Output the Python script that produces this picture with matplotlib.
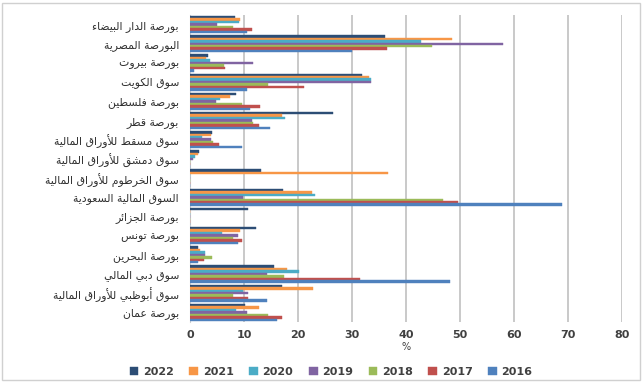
import matplotlib
matplotlib.use("Agg")
import matplotlib.pyplot as plt
from matplotlib.patches import Rectangle
import numpy as np

# ---------------- data ----------------
categories = [
    "بورصة الدار البيضاء",
    "البورصة المصرية",
    "بورصة بيروت",
    "سوق الكويت",
    "بورصة فلسطين",
    "بورصة قطر",
    "سوق مسقط للأوراق المالية",
    "سوق دمشق للأوراق المالية",
    "سوق الخرطوم للأوراق المالية",
    "السوق المالية السعودية",
    "بورصة الجزائر",
    "بورصة تونس",
    "بورصة البحرين",
    "سوق دبي المالي",
    "سوق أبوظبي للأوراق المالية",
    "بورصة عمان",
]
years = ["2022", "2021", "2020", "2019", "2018", "2017", "2016"]
v2022 = [8.3, 36.1, 3.4, 31.9, 8.5, 26.5, 4.0, 1.7, 13.1, 17.3, 10.8, 12.3, 1.5, 15.6, 17.0, 10.2]
v2021 = [9.3, 48.5, 3.0, 33.2, 7.4, 17.0, 3.9, 1.4, 36.7, 22.5, 0.0, 9.3, 1.8, 17.9, 22.8, 12.8]
v2020 = [9.0, 42.8, 3.7, 33.5, 5.5, 17.6, 2.2, 1.0, 0.0, 23.1, 0.0, 5.9, 2.8, 20.1, 9.9, 8.5]
v2019 = [5.0, 58.0, 11.7, 33.5, 4.8, 11.5, 3.9, 0.5, 0.0, 9.9, 0.0, 8.9, 2.8, 14.2, 10.8, 10.6]
v2018 = [8.0, 44.8, 6.3, 14.5, 9.6, 11.7, 4.3, 0.0, 0.0, 46.9, 0.0, 8.0, 4.0, 17.4, 8.0, 14.5]
v2017 = [11.5, 36.5, 6.5, 21.1, 13.0, 12.8, 5.3, 0.0, 0.0, 49.6, 0.0, 9.6, 2.5, 31.4, 10.8, 17.1]
v2016 = [10.5, 30.0, 0.7, 10.5, 11.1, 14.8, 9.6, 0.0, 0.0, 68.9, 0.0, 8.9, 1.5, 48.1, 14.2, 16.2]
series = [v2022, v2021, v2020, v2019, v2018, v2017, v2016]
colors = ["#2C4D75", "#F79646", "#4BACC6", "#8064A2", "#9BBB59", "#C0504D", "#4F81BD"]
xticks = [0, 10, 20, 30, 40, 50, 60, 70, 80]
xlabel = "%"

# ------------- minimal Arabic shaping (presentation forms + visual order) -------------
_starts = {'ء': 0xFE80, 'آ': 0xFE81, 'أ': 0xFE83, 'ؤ': 0xFE85, 'إ': 0xFE87, 'ئ': 0xFE89,
           'ا': 0xFE8D, 'ب': 0xFE8F, 'ة': 0xFE93, 'ت': 0xFE95, 'ث': 0xFE99, 'ج': 0xFE9D,
           'ح': 0xFEA1, 'خ': 0xFEA5, 'د': 0xFEA9, 'ذ': 0xFEAB, 'ر': 0xFEAD, 'ز': 0xFEAF,
           'س': 0xFEB1, 'ش': 0xFEB5, 'ص': 0xFEB9, 'ض': 0xFEBD, 'ط': 0xFEC1, 'ظ': 0xFEC5,
           'ع': 0xFEC9, 'غ': 0xFECD, 'ف': 0xFED1, 'ق': 0xFED5, 'ك': 0xFED9, 'ل': 0xFEDD,
           'م': 0xFEE1, 'ن': 0xFEE5, 'ه': 0xFEE9, 'و': 0xFEED, 'ى': 0xFEEF, 'ي': 0xFEF1}
_right = set("آأؤإاةدذرزوى")
_none = set("ء")
_lamalef = {'آ': 0xFEF5, 'أ': 0xFEF7, 'إ': 0xFEF9, 'ا': 0xFEFB}


def shape_ar(text):
    toks = []
    i = 0
    while i < len(text):
        c = text[i]
        if c == 'ل' and i + 1 < len(text) and text[i + 1] in _lamalef:
            toks.append(('lamalef', text[i + 1]))
            i += 2
            continue
        if c in _starts:
            if c in _none:
                toks.append(('none', c))
            elif c in _right:
                toks.append(('right', c))
            else:
                toks.append(('dual', c))
        else:
            toks.append(('other', c))
        i += 1
    out = []
    for k, (kind, c) in enumerate(toks):
        prev_joins = k > 0 and toks[k - 1][0] == 'dual'
        next_joins = (k + 1 < len(toks) and toks[k + 1][0] in ('dual', 'right', 'lamalef'))
        if kind == 'other':
            out.append(c)
        elif kind == 'none':
            out.append(chr(_starts[c]))
        elif kind == 'lamalef':
            out.append(chr(_lamalef[c] + (1 if prev_joins else 0)))
        elif kind == 'right':
            out.append(chr(_starts[c] + (1 if prev_joins else 0)))
        else:
            s = _starts[c]
            if prev_joins and next_joins:
                out.append(chr(s + 3))
            elif prev_joins:
                out.append(chr(s + 1))
            elif next_joins:
                out.append(chr(s + 2))
            else:
                out.append(chr(s))
    return "".join(out)[::-1]


# ---------------- plot ----------------
W, H = 643, 382
fig = plt.figure(figsize=(W / 100, H / 100), dpi=100)
fig.patch.set_facecolor("white")
fig.add_artist(Rectangle((2 / W, 2 / H), 1 - 5 / W, 1 - 5 / H, transform=fig.transFigure,
                         fill=False, edgecolor="#d0d0d0", linewidth=1.0))

ax = fig.add_axes([190 / W, 1 - 322 / H, 432 / W, 307 / H])
n = len(categories)
ns = len(series)
group_h = 0.9
bh = group_h / ns
ypos = np.arange(n)
for j, (vals, col) in enumerate(zip(series, colors)):
    offs = -group_h / 2 + bh * (j + 0.5)
    ax.barh(ypos + offs, vals, height=bh, color=col, label=years[j], zorder=3,
            edgecolor=col, linewidth=0.3)

ax.set_xlim(0, 80)
ax.set_ylim(n - 0.5, -0.5)
ax.set_xticks(xticks)
ax.set_xticklabels([str(t) for t in xticks], fontsize=8, fontweight="bold", color="#404040")
ax.set_yticks(ypos)
ax.set_yticklabels([shape_ar(c) for c in categories], fontsize=7.8, family="DejaVu Sans",
                   color="#303030")
ax.tick_params(axis="both", length=0)
ax.tick_params(axis="y", pad=8)
ax.tick_params(axis="x", pad=6)
ax.grid(axis="x", color="#c0c0c0", linewidth=1.2, zorder=0)
for s in ["top", "right", "bottom"]:
    ax.spines[s].set_visible(False)
ax.spines["left"].set_color("#d0d0d0")
ax.set_xlabel(xlabel, fontsize=7, color="#404040", labelpad=1)

leg = fig.legend(loc="center", bbox_to_anchor=(331 / W, 1 - 372 / H), ncol=7, frameon=False,
                 prop={"size": 8, "weight": "bold"}, handlelength=0.8, handleheight=0.8,
                 columnspacing=1.4, handletextpad=0.4)
for t in leg.get_texts():
    t.set_color("#404040")

fig.savefig("out.png", dpi=100)
